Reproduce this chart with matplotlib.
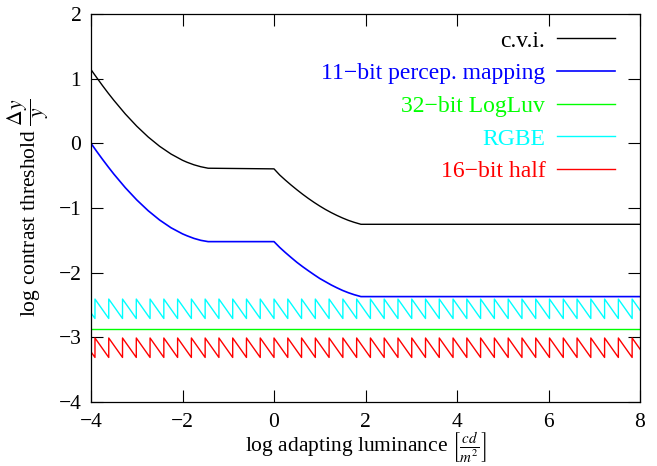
import matplotlib
matplotlib.use("Agg")
import matplotlib.pyplot as plt

plt.rcParams["font.family"] = ["Liberation Serif", "DejaVu Serif"]
plt.rcParams["mathtext.fontset"] = "stix"

# ---- data ----
# c.v.i. curve (log luminance, log contrast threshold)
cvi_x = [-4.0, -3.94, -3.875, -3.75, -3.625, -3.5, -3.25, -3.0, -2.75, -2.5,
         -2.25, -2.0, -1.9, -1.75, -1.6, -1.44, 0.0, 0.125, 0.25, 0.375,
         0.5, 0.625, 0.75, 0.875, 1.0, 1.125, 1.25, 1.375, 1.5, 1.625,
         1.75, 1.9, 8.0]
cvi_y = [1.14, 1.08, 1.016, 0.894, 0.777, 0.665, 0.454, 0.265, 0.098, -0.046,
         -0.166, -0.262, -0.293, -0.332, -0.362, -0.385, -0.395, -0.490, -0.570, -0.646,
         -0.718, -0.787, -0.852, -0.913, -0.970, -1.023, -1.071, -1.115, -1.155, -1.191,
         -1.221, -1.252, -1.252]

# 11-bit perceptual mapping
pm_x = cvi_x
pm_y = [0.0, -0.06, -0.125, -0.246, -0.363, -0.476, -0.686, -0.875, -1.042, -1.186,
        -1.306, -1.40, -1.43, -1.47, -1.50, -1.52, -1.52, -1.61, -1.69, -1.766,
        -1.84, -1.907, -1.97, -2.031, -2.09, -2.14, -2.19, -2.234, -2.275, -2.31,
        -2.34, -2.37, -2.37]

# 32-bit LogLuv (constant)
logluv_x = [-4.0, 8.0]
logluv_y = [-2.87, -2.87]

# sawtooth jump positions (shared by RGBE and half)
jump_x = [-4.214, -3.913, -3.612, -3.311, -3.010, -2.709, -2.408, -2.107,
          -1.806, -1.505, -1.204, -0.903, -0.602, -0.301, 0.000, 0.301,
          0.602, 0.903, 1.204, 1.505, 1.806, 2.107, 2.408, 2.709, 3.010,
          3.311, 3.612, 3.913, 4.214, 4.515, 4.816, 5.118, 5.419, 5.720,
          6.021, 6.322, 6.623, 6.924, 7.225, 7.526, 7.827, 8.128]
rgbe_hi, rgbe_lo = -2.408, -2.709
half_hi, half_lo = -3.010, -3.311


def sawtooth(xs, hi, lo):
    px, py = [], []
    for a, b in zip(xs[:-1], xs[1:]):
        px += [a, b, b]
        py += [hi, lo, hi]
    return px, py


labels = ["c.v.i.", "11\u2212bit percep. mapping", "32\u2212bit LogLuv",
          "RGBE", "16\u2212bit half"]
colors = ["black", "#0000ff", "#00ff00", "#00ffff", "#ff0000"]

fig = plt.figure(figsize=(6.57, 4.66), dpi=100)
ax = fig.add_axes([0.1385, 0.1373, 0.9742 - 0.1385, 0.970 - 0.1373])

lw = 1.0
ax.plot(cvi_x, cvi_y, color=colors[0], lw=lw, label=labels[0])
ax.plot(pm_x, pm_y, color=colors[1], lw=1.2, label=labels[1])
ax.plot(logluv_x, logluv_y, color=colors[2], lw=lw, label=labels[2])
sx, sy = sawtooth(jump_x, rgbe_hi, rgbe_lo)
ax.plot(sx, sy, color=colors[3], lw=lw, label=labels[3])
sx, sy = sawtooth(jump_x, half_hi, half_lo)
ax.plot(sx, sy, color=colors[4], lw=lw, label=labels[4])

ax.set_xlim(-4, 8)
ax.set_ylim(-4, 2)
ax.set_xticks(range(-4, 9, 2))
ax.set_yticks(range(-4, 3))
ax.tick_params(direction="in", length=8.5, width=0.8, labelsize=15.5,
               top=True, right=True)
ax.tick_params(axis="x", pad=8)
ax.tick_params(axis="y", pad=7)
for s in ax.spines.values():
    s.set_linewidth(0.9)

ax.set_xlabel(r"log adapting luminance $\left[\frac{cd}{m^2}\right]$", fontsize=15.5, labelpad=-1)
ax.set_ylabel(r"log contrast threshold $\dfrac{\Delta y}{y}$", fontsize=15.5, labelpad=5)

leg = ax.legend(loc="upper right", bbox_to_anchor=(1.0, 1.022), markerfirst=False,
                frameon=False, fontsize=17, handlelength=2.46, handletextpad=0.5,
                labelspacing=0.47, borderaxespad=0.85, borderpad=0.2,
                labelcolor="linecolor")
for t in leg.get_texts():
    t.set_ha("right")

fig.savefig("out.png", dpi=100)
